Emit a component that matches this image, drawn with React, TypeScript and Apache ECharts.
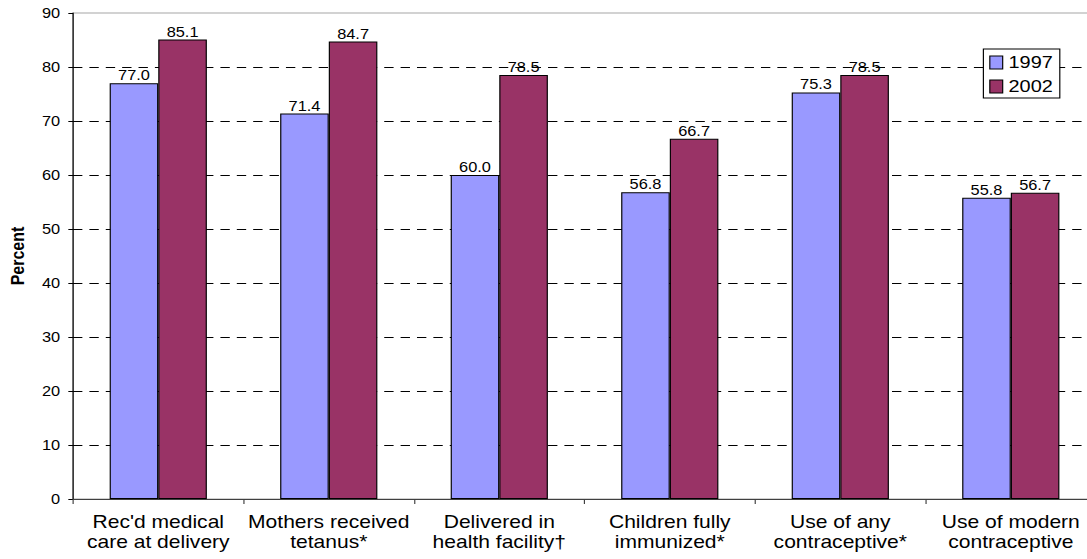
import React, { useEffect, useRef } from "react";
import * as echarts from "echarts";

const categories = [
  "Rec'd medical\ncare at delivery",
  "Mothers received\ntetanus*",
  "Delivered in\nhealth facility†",
  "Children fully\nimmunized*",
  "Use of any\ncontraceptive*",
  "Use of modern\ncontraceptive",
];
const values1997 = [77.0, 71.4, 60.0, 56.8, 75.3, 55.8];
const values2002 = [85.1, 84.7, 78.5, 66.7, 78.5, 56.7];
const seriesNames = ["1997", "2002"];

// the drawing is laid out narrower and widened with a horizontal scale
const SX = 1.17;
const FONT = "'Liberation Sans', Arial, Helvetica, sans-serif";

export default function App() {
  const ref = useRef<HTMLDivElement>(null);

  useEffect(() => {
    if (!ref.current) return;
    const chart = echarts.init(ref.current, undefined, { renderer: "svg" });
    const label = {
      show: true,
      position: "top" as const,
      distance: 1,
      color: "#000",
      fontSize: 14,
      fontFamily: FONT,
      formatter: (p: any) => Number(p.value).toFixed(1),
    };
    chart.setOption({
      animation: false,
      textStyle: { fontFamily: FONT, color: "#000" },
      grid: {
        left: 62.4,
        right: 3.2,
        top: 13,
        bottom: 60,
        containLabel: false,
        outerBoundsMode: "none",
        show: true,
        borderColor: "#a6a6a6",
        borderWidth: 1,
        backgroundColor: "transparent",
      },
      legend: {
        data: seriesNames,
        orient: "vertical",
        left: 840.5,
        top: 49,
        padding: [5, 6, 3, 5],
        itemGap: 7,
        itemWidth: 11,
        itemHeight: 13,
        icon: "rect",
        borderColor: "#000",
        borderWidth: 1,
        backgroundColor: "#fff",
        itemStyle: { borderColor: "#000", borderWidth: 1 },
        textStyle: { fontSize: 17, fontFamily: FONT, color: "#000", padding: [0, 0, 0, 0] },
      },
      xAxis: {
        type: "category",
        data: categories,
        axisLine: { show: true, lineStyle: { color: "#404040", width: 1 } },
        axisTick: { show: true, length: 5, lineStyle: { color: "#404040" } },
        axisLabel: {
          fontSize: 18,
          lineHeight: 20,
          margin: 13,
          color: "#000",
          fontFamily: FONT,
          interval: 0,
        },
      },
      yAxis: {
        type: "value",
        min: 0,
        max: 90,
        interval: 10,
        name: "Percent",
        nameLocation: "middle",
        nameGap: 39.5,
        nameRotate: 90,
        nameTextStyle: { fontSize: 16, fontWeight: "bold", color: "#000", fontFamily: FONT },
        axisLine: { show: true, lineStyle: { color: "#000", width: 1 } },
        axisTick: { show: true, length: 4, lineStyle: { color: "#000" } },
        axisLabel: { fontSize: 14, margin: 11, color: "#000", fontFamily: FONT },
        splitLine: {
          show: true,
          showMinLine: false,
          showMaxLine: false,
          lineStyle: { color: "#000", type: [8, 6], width: 1 },
        },
      },
      series: [
        {
          name: seriesNames[0],
          type: "bar",
          data: values1997,
          barGap: "0%",
          barCategoryGap: "43%",
          itemStyle: { color: "#9999ff", borderColor: "#000", borderWidth: 1 },
          label,
        },
        {
          name: seriesNames[1],
          type: "bar",
          data: values2002,
          barGap: "0%",
          barCategoryGap: "43%",
          itemStyle: { color: "#993366", borderColor: "#000", borderWidth: 1 },
          label,
        },
      ],
    });
    return () => chart.dispose();
  }, []);

  return (
    <div
      style={{
        position: "fixed",
        left: 0,
        top: 0,
        width: 1087,
        height: 559,
        overflow: "hidden",
        background: "#fff",
      }}
    >
      <div
        ref={ref}
        style={{
          width: 940,
          height: 559,
          transform: `scaleX(${SX})`,
          transformOrigin: "0 0",
        }}
      />
    </div>
  );
}
